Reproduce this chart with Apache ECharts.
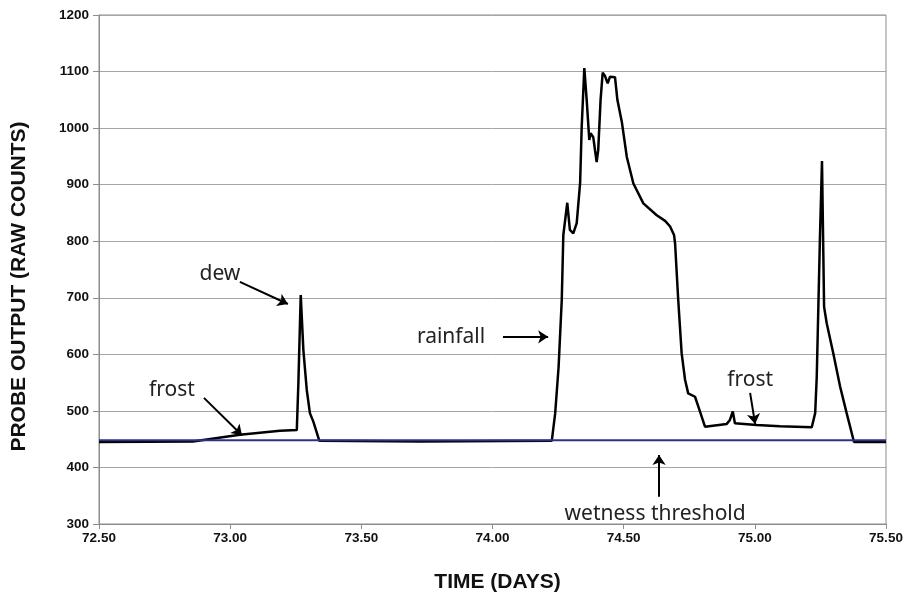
<!DOCTYPE html>
<html>
<head>
<meta charset="utf-8">
<script src="https://cdn.jsdelivr.net/npm/echarts@6/dist/echarts.min.js"></script>
<style>html,body{margin:0;padding:0;background:#fff}#c{width:910px;height:596px}</style>
</head>
<body>
<div id="c"></div>
<script>
// Time in days
var times = [72.5, 72.858, 73.037, 73.190, 73.254, 73.260, 73.269, 73.279, 73.292, 73.304, 73.317, 73.340, 73.724, 74.226,
  74.239, 74.252, 74.264, 74.270, 74.285, 74.295, 74.308, 74.321, 74.334, 74.340, 74.350, 74.359, 74.369, 74.374, 74.384,
  74.397, 74.403, 74.412, 74.420, 74.429, 74.439, 74.448, 74.467, 74.476, 74.493, 74.512, 74.537, 74.575, 74.626, 74.658,
  74.677, 74.692, 74.696, 74.708, 74.721, 74.734, 74.746, 74.772, 74.785, 74.810, 74.893, 74.905, 74.916, 74.924, 75.007,
  75.096, 75.217, 75.230, 75.236, 75.248, 75.256, 75.264, 75.274, 75.299, 75.325, 75.350, 75.378, 75.5];
// Probe output (raw counts)
var counts = [445, 446, 458, 465, 466, 549, 705, 608, 537, 496, 481, 447, 446, 447,
  496, 578, 696, 811, 868, 820, 814, 832, 903, 1002, 1106, 1050, 979, 991, 984,
  940, 961, 1050, 1098, 1092, 1079, 1091, 1090, 1050, 1011, 949, 902, 867, 846, 836,
  826, 811, 796, 696, 602, 555, 531, 525, 507, 472, 477, 484, 499, 478, 475,
  473, 471, 496, 560, 802, 942, 684, 655, 602, 543, 496, 445, 445];
var thresholdValue = 448;
var xTicks = [72.5, 73.0, 73.5, 74.0, 74.5, 75.0, 75.5];
// Annotations in data coordinates: label, text position, arrow start, arrow end
var annLabels = ['dew', 'frost', 'rainfall', 'frost', 'wetness threshold'];
var annText = [[72.961, 742], [72.778, 537], [73.842, 631], [74.982, 555], [74.620, 318]];
var annFrom = [[73.037, 728], [72.900, 523], [74.040, 631], [74.982, 532], [74.635, 348]];
var annTo = [[73.220, 689], [73.045, 457], [74.212, 631], [75.001, 477], [74.635, 422]];

var seriesData = times.map(function (t, i) { return [t, counts[i]]; });
var thrData = [[xTicks[0], thresholdValue], [xTicks[xTicks.length - 1], thresholdValue]];

var labelFont = "'Liberation Sans', Arial, sans-serif";
var annFont = "'Noto Sans', Lato, sans-serif";

var chart = echarts.init(document.getElementById('c'));
chart.setOption({
  animation: false,
  backgroundColor: '#fff',
  grid: { left: 99, right: 24, top: 15, bottom: 72, containLabel: false, outerBoundsMode: 'none',
    show: true, borderColor: '#8c8c8c', borderWidth: 1 },
  xAxis: {
    type: 'value', min: 72.5, max: 75.5, interval: 0.5,
    name: 'TIME (DAYS)', nameLocation: 'middle', nameGap: 48,
    nameTextStyle: { fontFamily: labelFont, fontWeight: 'bold', fontSize: 21, color: '#111', padding: [0, 0, 0, 10] },
    axisLine: { show: true, lineStyle: { color: '#8c8c8c', width: 1 } },
    axisTick: { show: true, length: 5, lineStyle: { color: '#8c8c8c' } },
    axisLabel: { formatter: function (v) { return v.toFixed(2); }, fontFamily: labelFont, fontWeight: 'bold', fontSize: 13.5, color: '#111', margin: 7 },
    splitLine: { show: false }
  },
  yAxis: {
    type: 'value', min: 300, max: 1200, interval: 100,
    name: 'PROBE OUTPUT (RAW COUNTS)', nameLocation: 'middle', nameGap: 69,
    nameTextStyle: { fontFamily: labelFont, fontWeight: 'bold', fontSize: 21, color: '#111', padding: [0, 34, 0, 0] },
    axisLine: { show: true, lineStyle: { color: '#8c8c8c', width: 1 } },
    axisTick: { show: true, length: 6, lineStyle: { color: '#8c8c8c' } },
    axisLabel: { formatter: function (v) { return String(v); }, fontFamily: labelFont, fontWeight: 'bold', fontSize: 13.5, color: '#111', margin: 10 },
    splitLine: { show: true, lineStyle: { color: '#a6a6a6', width: 1 } }
  },
  series: [
    {
      type: 'line', data: seriesData, showSymbol: false, symbol: 'none',
      lineStyle: { color: '#000', width: 2.5 }, z: 3
    },
    {
      type: 'line', data: thrData, showSymbol: false, symbol: 'none',
      lineStyle: { color: '#2e3087', width: 2 }, z: 4
    },
    {
      type: 'line', data: [], z: 5,
      markLine: {
        silent: true, symbol: ['none', 'arrow'], symbolSize: 10,
        lineStyle: { color: '#000', width: 2, type: 'solid' },
        itemStyle: { color: '#000' },
        label: { show: false },
        data: annFrom.map(function (f, i) { return [{ coord: f }, { coord: annTo[i] }]; })
      },
      markPoint: {
        silent: true, symbol: 'circle', symbolSize: 0,
        label: { show: true, position: 'inside', color: '#222', fontFamily: annFont, fontSize: 21,
          formatter: function (p) { return p.name; } },
        data: annLabels.map(function (l, i) { return { name: l, coord: annText[i] }; })
      }
    }
  ]
});
</script>
</body>
</html>
